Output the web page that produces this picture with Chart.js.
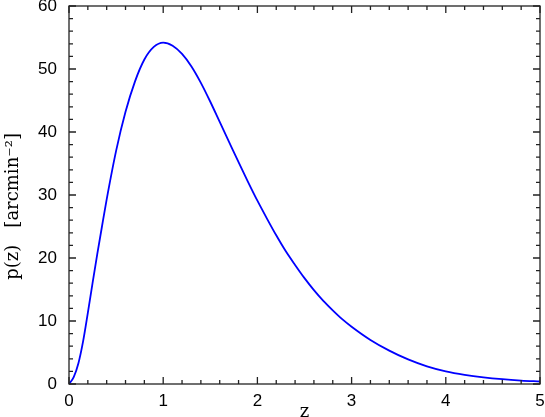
<!DOCTYPE html>
<html>
<head>
<meta charset="utf-8">
<script src="https://cdn.jsdelivr.net/npm/chart.js@4"></script>
<style>
  html, body { margin: 0; padding: 0; background: #fff; }
  #wrap { width: 545px; height: 417px; }
</style>
</head>
<body>
<div id="wrap"><canvas id="grafico" width="545" height="417"></canvas></div>
<script>
// redshift distribution
const zValues = [0, 0.05, 0.1, 0.15, 0.2, 0.25, 0.3, 0.35, 0.4, 0.5, 0.6, 0.7, 0.8, 0.9, 1.0,
  1.1, 1.2, 1.3, 1.4, 1.5, 1.6, 1.7, 1.8, 1.9, 2.0, 2.1, 2.2, 2.3, 2.4, 2.5, 2.6, 2.7, 2.8, 2.9,
  3.0, 3.2, 3.4, 3.6, 3.8, 4.0, 4.2, 4.4, 4.6, 4.8, 5.0];
const pValues = [0, 1.1, 3.3, 6.8, 11.3, 16.0, 20.6, 25.0, 29.3, 37.0, 43.2, 48.0, 51.5, 53.5, 54.2,
  53.7, 52.4, 50.4, 47.8, 44.8, 41.6, 38.4, 35.2, 32.1, 29.1, 26.3, 23.6, 21.1, 18.9, 16.8, 14.9, 13.2, 11.7, 10.3,
  9.1, 7.0, 5.3, 3.9, 2.8, 2.0, 1.45, 1.05, 0.76, 0.55, 0.40];

const xTicks = [0, 1, 2, 3, 4, 5];
const yTicks = [0, 10, 20, 30, 40, 50, 60];
const xTitle = "z";
const yTitle = "p(z)\u00A0\u00A0\u00A0[arcmin\u207B\u00B2]\u00A0\u00A0\u00A0\u00A0";

// frame + inward ticks on all four sides
const marcoTicks = {
  id: "marcoTicks",
  afterDraw(chart) {
    const { ctx, chartArea: a, scales } = chart;
    const x = scales.x, y = scales.y;
    ctx.save();
    ctx.strokeStyle = "#222";
    ctx.lineWidth = 1.3;
    ctx.strokeRect(a.left, a.top, a.right - a.left, a.bottom - a.top);
    ctx.beginPath();
    for (let i = 0; i <= 25; i++) {
      const px = x.getPixelForValue(i * 0.2);
      const len = i % 5 === 0 ? 7 : 4;
      ctx.moveTo(px, a.bottom); ctx.lineTo(px, a.bottom - len);
      ctx.moveTo(px, a.top); ctx.lineTo(px, a.top + len);
    }
    for (let i = 0; i <= 30; i++) {
      const py = y.getPixelForValue(i * 2);
      const len = i % 5 === 0 ? 7 : 4;
      ctx.moveTo(a.left, py); ctx.lineTo(a.left + len, py);
      ctx.moveTo(a.right, py); ctx.lineTo(a.right - len, py);
    }
    ctx.stroke();
    ctx.restore();
  }
};

const ctx = document.getElementById("grafico").getContext("2d");
new Chart(ctx, {
  type: "line",
  data: {
    datasets: [{
      data: zValues.map((z, i) => ({ x: z, y: pValues[i] })),
      borderColor: "#0000ff",
      borderWidth: 1.8,
      pointRadius: 0,
      cubicInterpolationMode: "monotone",
      fill: false
    }]
  },
  options: {
    responsive: false,
    animation: false,
    layout: { padding: { top: 6, right: 5, left: 0, bottom: 0 } },
    plugins: { legend: { display: false }, tooltip: { enabled: false } },
    scales: {
      x: {
        type: "linear", min: 0, max: 5,
        afterBuildTicks: s => { s.ticks = xTicks.map(v => ({ value: v })); },
        afterFit: s => { s.height = 33; s.paddingLeft = 0; s.paddingRight = 0; },
        grid: { display: false, drawTicks: false },
        border: { display: false },
        ticks: { color: "#000", padding: 7, maxRotation: 0,
          font: { family: "Liberation Sans", size: 17 } },
        title: { display: true, text: xTitle, color: "#000", padding: { top: 0, bottom: -4 },
          font: { family: "DejaVu Serif", size: 18, lineHeight: 1 } }
      },
      y: {
        type: "linear", min: 0, max: 60,
        afterBuildTicks: s => { s.ticks = yTicks.map(v => ({ value: v })); },
        afterFit: s => { s.width = 69; s.paddingTop = 0; s.paddingBottom = 0; },
        grid: { display: false, drawTicks: false },
        border: { display: false },
        ticks: { color: "#000", padding: 12,
          font: { family: "Liberation Sans", size: 17 } },
        title: { display: true, text: yTitle, color: "#000", padding: { top: 3, bottom: 0 },
          font: { family: "DejaVu Serif", size: 18, lineHeight: 1.2 } }
      }
    }
  },
  plugins: [marcoTicks]
});
</script>
</body>
</html>
